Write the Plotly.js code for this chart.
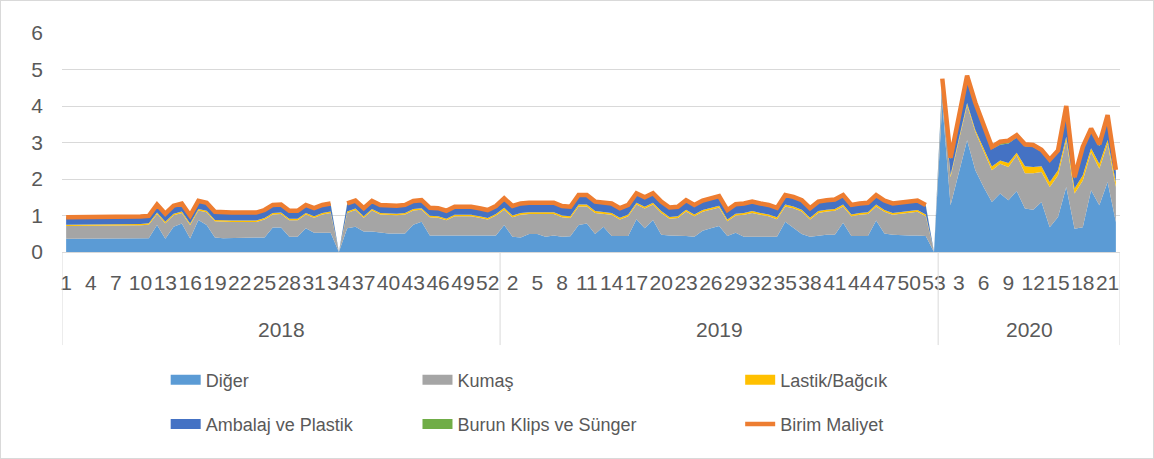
<!DOCTYPE html>
<html>
<head>
<meta charset="utf-8">
<script src="https://cdn.plot.ly/plotly-3.0.1.min.js"></script>
<style>
  html, body { margin: 0; padding: 0; background: #fff; }
  #chart { width: 1152px; height: 457px; border: 1px solid #d9d9d9; }
</style>
</head>
<body>
<div id="chart"></div>
<script>
// ---------- DATA ----------
const years = ['2018', '2019', '2020'];
const weeksInYear = [53, 53, 22];

const seriesNames = ['Diğer', 'Kumaş', 'Lastik/Bağcık', 'Ambalaj ve Plastik', 'Burun Klips ve Sünger', 'Birim Maliyet'];

const diger = [
  // 2018
  0.36,0.36,0.36,0.36,0.36,0.36,0.36,0.37,0.37,0.37,0.38,
  0.74,0.36,0.69,0.78,0.37,0.88,0.74,0.40,
  0.38,0.38,0.38,0.38,0.38,0.40,
  0.67,0.67,0.42,0.42,0.65,0.53,0.53,0.53,
  0,
  0.65,0.69,0.56,0.56,0.53,0.51,0.51,0.51,
  0.75,0.83,0.45,0.45,0.45,0.45,0.45,0.45,0.45,0.45,0.45,
  // 2019
  0.74,0.42,0.40,0.49,0.49,0.42,0.45,0.42,0.43,
  0.74,0.78,0.49,0.69,0.44,0.44,0.44,0.90,0.65,0.88,0.47,
  0.45,0.45,0.44,0.42,0.58,0.65,0.71,0.44,0.53,0.42,0.42,0.42,0.42,0.42,
  0.83,0.65,0.49,0.42,0.45,0.47,0.47,0.80,0.44,0.44,0.44,0.86,0.51,0.47,0.45,0.45,0.45,0.44,
  0,
  // 2020
  4.10,1.28,2.20,3.06,2.24,1.78,1.37,1.60,1.42,1.67,1.19,
  1.16,1.37,0.68,0.96,1.78,0.64,0.68,1.69,1.28,1.92,0.82
];

const kumas = [
  // 2018
  0.35,0.35,0.35,0.36,0.36,0.36,0.37,0.36,0.35,0.36,0.37,
  0.30,0.43,0.32,0.29,0.37,0.26,0.35,0.44,
  0.44,0.44,0.44,0.45,0.44,0.49,
  0.36,0.37,0.45,0.45,0.38,0.41,0.50,0.54,
  0,
  0.42,0.46,0.38,0.58,0.50,0.50,0.50,0.52,
  0.39,0.33,0.50,0.49,0.42,0.53,0.53,0.53,0.49,0.44,0.55,
  // 2019
  0.42,0.53,0.62,0.55,0.55,0.60,0.59,0.53,0.50,
  0.51,0.47,0.58,0.35,0.58,0.45,0.54,0.40,0.54,0.42,0.60,
  0.46,0.48,0.67,0.56,0.52,0.51,0.51,0.40,0.47,0.60,0.65,0.60,0.56,0.48,
  0.42,0.55,0.62,0.47,0.62,0.64,0.66,0.45,0.54,0.58,0.60,0.39,0.59,0.55,0.59,0.62,0.65,0.54,
  0,
  // 2020
  0.30,0.77,0.85,0.96,1.05,1.00,0.87,0.82,0.91,0.98,0.97,
  1.00,0.82,1.10,1.14,1.28,0.96,1.28,1.05,1.00,1.05,0.96
];

const lastik = [
  // 2018
  0.04,0.04,0.04,0.04,0.04,0.04,0.04,0.04,0.04,0.04,0.04,
  0.04,0.04,0.04,0.04,0.04,0.04,0.04,0.04,
  0.04,0.04,0.04,0.04,0.04,0.04,
  0.04,0.04,0.04,0.04,0.04,0.04,0.04,0.04,
  0,
  0.04,0.04,0.04,0.04,0.04,0.04,0.04,0.04,
  0.04,0.04,0.04,0.04,0.04,0.04,0.04,0.04,0.04,0.04,0.04,
  // 2019
  0.05,0.05,0.05,0.05,0.05,0.05,0.05,0.05,0.05,
  0.05,0.05,0.05,0.05,0.05,0.05,0.05,0.05,0.05,0.05,0.05,
  0.05,0.05,0.05,0.05,0.05,0.05,0.05,0.05,0.05,0.05,0.05,0.05,0.05,0.05,
  0.05,0.05,0.05,0.05,0.05,0.05,0.05,0.05,0.05,0.05,0.05,0.05,0.05,0.05,0.05,0.05,0.05,0.05,
  0,
  // 2020
  0.05,0.05,0.05,0.06,0.05,0.06,0.10,0.09,0.11,0.07,0.19,
  0.17,0.16,0.14,0.14,0.10,0.14,0.14,0.10,0.14,0.10,0.14
];

const ambalaj = [
  // 2018
  0.18,0.18,0.18,0.18,0.18,0.18,0.18,0.18,0.18,0.18,0.18,
  0.20,0.20,0.20,0.20,0.20,0.20,0.20,0.20,
  0.20,0.20,0.20,0.20,0.20,0.20,
  0.20,0.20,0.20,0.20,0.20,0.20,0.20,0.20,
  0,
  0.20,0.20,0.20,0.20,0.20,0.20,0.20,0.20,
  0.20,0.20,0.20,0.20,0.20,0.20,0.20,0.20,0.20,0.20,0.20,
  // 2019
  0.24,0.24,0.24,0.24,0.24,0.24,0.24,0.24,0.24,
  0.24,0.24,0.24,0.24,0.24,0.24,0.24,0.24,0.24,0.24,0.24,
  0.24,0.24,0.24,0.24,0.24,0.24,0.24,0.24,0.24,0.24,0.24,0.24,0.24,0.24,
  0.24,0.24,0.24,0.24,0.24,0.24,0.24,0.24,0.24,0.24,0.24,0.24,0.24,0.24,0.24,0.24,0.24,0.24,
  0,
  // 2020
  0.25,0.45,0.55,0.70,0.70,0.58,0.48,0.43,0.53,0.42,0.55,
  0.55,0.40,0.56,0.49,0.79,0.27,0.73,0.49,0.48,0.63,0.28
];

const burun = [
  // 2018
  0.02,0.02,0.02,0.02,0.02,0.02,0.02,0.02,0.02,0.02,0.02,
  0.02,0.02,0.02,0.02,0.02,0.02,0.02,0.02,
  0.02,0.02,0.02,0.02,0.02,0.02,
  0.02,0.02,0.02,0.02,0.02,0.02,0.02,0.02,
  0,
  0.02,0.02,0.02,0.02,0.02,0.02,0.02,0.02,
  0.02,0.02,0.02,0.02,0.02,0.02,0.02,0.02,0.02,0.02,0.02,
  // 2019
  0.02,0.02,0.02,0.02,0.02,0.02,0.02,0.02,0.02,
  0.02,0.02,0.02,0.02,0.02,0.02,0.02,0.02,0.02,0.02,0.02,
  0.02,0.02,0.02,0.02,0.02,0.02,0.02,0.02,0.02,0.02,0.02,0.02,0.02,0.02,
  0.02,0.02,0.02,0.02,0.02,0.02,0.02,0.02,0.02,0.02,0.02,0.02,0.02,0.02,0.02,0.02,0.02,0.02,
  0,
  // 2020
  0.05,0.03,0.05,0.05,0.05,0.05,0.06,0.08,0.08,0.06,0.05,
  0.05,0.05,0.05,0.05,0.05,0.04,0.05,0.05,0.05,0.05,0.05
];

const birimMaliyet = [
  // 2018
  0.95,0.95,0.95,0.96,0.96,0.96,0.97,0.97,0.96,0.97,0.99,
  1.30,1.05,1.27,1.33,1.00,1.40,1.35,1.10,
  1.08,1.08,1.08,1.09,1.08,1.15,
  1.29,1.30,1.13,1.13,1.29,1.20,1.29,1.33,
  null,
  1.33,1.41,1.20,1.40,1.29,1.27,1.27,1.29,
  1.40,1.42,1.21,1.20,1.13,1.24,1.24,1.24,1.20,1.15,1.26,
  // 2019
  1.47,1.26,1.33,1.35,1.35,1.33,1.35,1.26,1.24,
  1.56,1.56,1.38,1.35,1.33,1.20,1.29,1.61,1.50,1.61,1.38,
  1.22,1.24,1.42,1.29,1.41,1.47,1.53,1.15,1.31,1.33,1.38,1.33,1.29,1.21,
  1.56,1.51,1.42,1.20,1.38,1.42,1.44,1.56,1.29,1.33,1.35,1.56,1.41,1.33,1.35,1.38,1.41,1.29,
  null,
  // 2020
  4.75,2.58,3.70,4.83,4.09,3.47,2.88,3.02,3.05,3.20,2.95,
  2.93,2.80,2.53,2.78,4.00,2.05,2.88,3.38,2.95,3.75,2.25
];

// ---------- CATEGORY AXIS ----------
const weekLabels = [];
const yearStart = [];
years.forEach((y, k) => {
  yearStart.push(weekLabels.length);
  for (let w = 1; w <= weeksInYear[k]; w++) weekLabels.push(String(w));
});
const xIdx = weekLabels.map((_, i) => i);
const tickvals = xIdx.filter(i => i % 3 === 0);
const ticktext = tickvals.map(i => weekLabels[i]);

const FONT = 'Liberation Sans, Arial, sans-serif';
const TXT = '#595959';
const GRID = '#d9d9d9';

const colors = ['#5B9BD5', '#A5A5A5', '#FFC000', '#4472C4', '#70AD47', '#ED7D31'];
const areaData = [diger, kumas, lastik, ambalaj, burun];
const legendFor = ['legend', 'legend2', 'legend3', 'legend', 'legend2', 'legend3'];

// stacked areas (legend shown through swatch entries below)
const traces = areaData.map((vals, k) => ({
  type: 'scatter',
  mode: 'lines',
  x: xIdx,
  y: vals,
  name: seriesNames[k],
  stackgroup: 'one',
  line: { width: 0, color: colors[k] },
  fillcolor: colors[k],
  showlegend: false,
  hoverinfo: 'skip'
}));
// legend swatches (rectangular, like the reference)
areaData.forEach((vals, k) => {
  traces.push({
    type: 'scatter', mode: 'lines',
    x: [null], y: [null],
    name: seriesNames[k],
    line: { width: 10, color: colors[k] },
    legend: legendFor[k],
    legendgroup: 'g' + k,
    hoverinfo: 'skip'
  });
});
traces.push({
  type: 'scatter',
  mode: 'lines',
  x: xIdx,
  y: birimMaliyet,
  name: seriesNames[5],
  line: { width: 4.5, color: colors[5] },
  connectgaps: false,
  legend: 'legend3',
  legendgroup: 'g5',
  hoverinfo: 'skip'
});

// year separators and labels
const bounds = yearStart.concat([weekLabels.length]).map(v => v - 0.5);
const shapes = bounds.map(b => ({
  type: 'line', xref: 'x', yref: 'paper',
  x0: b, x1: b, y0: 0, y1: -0.425,
  line: { color: GRID, width: 1 }
}));
const annotations = years.map((y, k) => ({
  text: y, xref: 'x', yref: 'paper',
  x: (bounds[k] + bounds[k + 1]) / 2, y: -0.355,
  showarrow: false, yanchor: 'middle',
  font: { family: FONT, size: 21, color: TXT }
}));

const legendBase = {
  orientation: 'v', yanchor: 'top', y: -0.5, xanchor: 'left',
  traceorder: 'grouped', tracegroupgap: 18,
  font: { family: FONT, size: 18, color: TXT },
  bgcolor: 'rgba(0,0,0,0)'
};

const layout = {
  width: 1152, height: 457,
  margin: { l: 61, r: 33, t: 32, b: 206 },
  paper_bgcolor: '#fff', plot_bgcolor: '#fff',
  showlegend: true,
  xaxis: {
    range: [-0.5, weekLabels.length - 0.5],
    tickmode: 'array', tickvals: tickvals, ticktext: ticktext,
    tickangle: 0, ticks: '', showgrid: false, zeroline: false,
    showline: true, linecolor: GRID, linewidth: 1,
    ticklabelstandoff: 12,
    tickfont: { family: FONT, size: 21, color: TXT }
  },
  yaxis: {
    range: [0, 6], dtick: 1, tick0: 0,
    showgrid: true, gridcolor: GRID, gridwidth: 1,
    zeroline: false, showline: false, ticks: '',
    ticklabelstandoff: 18,
    tickfont: { family: FONT, size: 21, color: TXT }
  },
  shapes: shapes,
  annotations: annotations,
  legend: Object.assign({}, legendBase, { x: 0.098 }),
  legend2: Object.assign({}, legendBase, { x: 0.336 }),
  legend3: Object.assign({}, legendBase, { x: 0.641 })
};

Plotly.newPlot('chart', traces, layout, { displayModeBar: false, staticPlot: true });
</script>
</body>
</html>
